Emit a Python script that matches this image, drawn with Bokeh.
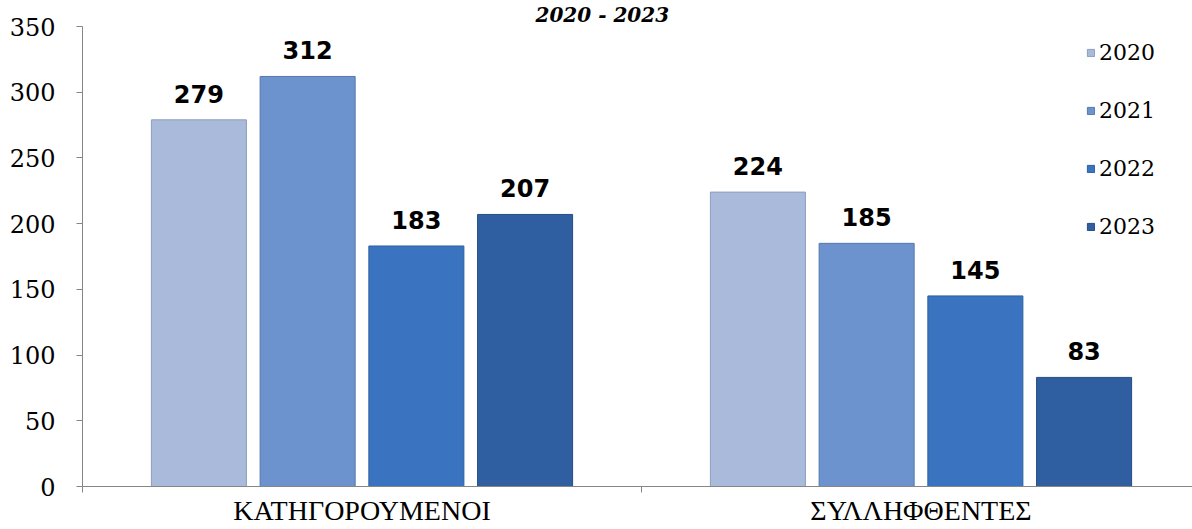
from bokeh.plotting import figure
from bokeh.models import (ColumnDataSource, Range1d, FixedTicker, LabelSet, Legend)
from bokeh.core.properties import value
from bokeh.embed import file_html
from bokeh.resources import INLINE

categories = ["ΚΑΤΗΓΟΡΟΥΜΕΝΟΙ", "ΣΥΛΛΗΦΘΕΝΤΕΣ"]
years = ["2020", "2021", "2022", "2023"]
values = {
    "2020": [279, 224],
    "2021": [312, 185],
    "2022": [183, 145],
    "2023": [207, 83],
}
colors = ["#a9badb", "#6c93cd", "#3a74c0", "#2f5fa0"]
line_colors = ["#8c9ebd", "#5478ad", "#2c5f9f", "#244d84"]
title_text = "2020 - 2023"

W, H = 1192, 529
p = figure(width=W, height=H, output_backend="svg", toolbar_location=None,
           x_range=Range1d(0, 1110 / 559), y_range=Range1d(0, 350),
           min_border_left=82, min_border_right=0, min_border_top=25,
           min_border_bottom=43)
p.outline_line_color = None
p.grid.visible = False
p.background_fill_color = "white"

# Title (shrunk so that it fits above the plot area)
p.title.text = title_text
p.title.align = "left"
p.title.offset = 453
p.title.standoff = 0
p.title.text_font = "DejaVu Serif"
p.title.text_font_style = "bold italic"
p.title.text_font_size = "20px"
p.title.text_color = "black"

step = 0.1945
bw = 0.17
renderers = []
for j, yr in enumerate(years):
    xs = [i + 0.5 + (j - 1.5) * step for i in range(len(categories))]
    src = ColumnDataSource(dict(x=xs, top=values[yr],
                                lab=[str(v) for v in values[yr]]))
    r = p.vbar(x="x", top="top", bottom=0, width=bw, source=src,
               fill_color=colors[j], line_color=line_colors[j], line_width=1)
    renderers.append((yr, [r]))
    ls = LabelSet(x="x", y="top", text="lab", source=src, y_offset=17,
                  text_align="center", text_baseline="alphabetic",
                  text_font=value("DejaVu Sans"), text_font_style="bold",
                  text_font_size="24px", text_color="black")
    p.add_layout(ls)

# Y axis
ya = p.yaxis[0]
ya.ticker = FixedTicker(ticks=list(range(0, 351, 50)))
ya.axis_line_color = "#868686"
ya.major_tick_line_color = "#868686"
ya.major_tick_in = 0
ya.major_tick_out = 6
ya.minor_tick_line_color = None
ya.major_label_standoff = 21
ya.major_label_text_font = "DejaVu Serif"
ya.major_label_text_font_size = "24px"
ya.major_label_text_color = "black"

# X axis
xa = p.xaxis[0]
xa.ticker = FixedTicker(ticks=[0.5, 1.5], minor_ticks=[0, 1, 2])
xa.major_label_overrides = {0.5: categories[0], 1.5: categories[1]}
xa.axis_line_color = "#868686"
xa.major_tick_line_color = None
xa.major_tick_in = 0
xa.major_tick_out = 0
xa.minor_tick_line_color = "#868686"
xa.minor_tick_in = 0
xa.minor_tick_out = 6
xa.major_label_standoff = 2
xa.major_label_text_font = "Liberation Serif"
xa.major_label_text_font_size = "28px"
xa.major_label_text_color = "black"

legend = Legend(items=renderers, location=(1004, 247), orientation="vertical",
                glyph_width=9, glyph_height=9, label_height=20, spacing=33,
                label_standoff=4, padding=0, margin=0,
                border_line_color=None, background_fill_alpha=0,
                label_text_font="DejaVu Serif", label_text_font_size="22px",
                label_text_color="black")
p.add_layout(legend)

open("out.html", "w").write(file_html(p, INLINE))
